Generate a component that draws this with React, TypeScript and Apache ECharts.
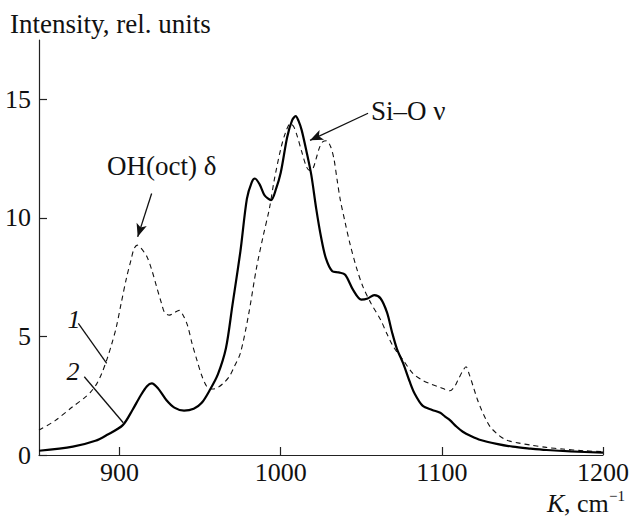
import React, { useEffect, useRef } from "react";
import * as echarts from "echarts";

// Curve 2 (solid)
const waveNumbers2 = [850, 871, 885, 892, 902, 908, 913, 917, 920, 924, 929, 934, 940, 946, 951, 956, 961, 966, 970, 975, 979, 982, 984, 987, 990, 994, 997, 1000, 1004, 1007, 1009.3, 1011, 1013, 1016, 1019, 1022, 1025, 1028, 1032, 1036, 1040, 1045, 1050, 1054, 1058, 1062, 1066, 1069, 1072, 1076, 1080, 1083, 1088, 1094, 1099, 1102, 1105, 1109, 1113, 1118, 1124, 1134, 1144, 1155, 1165, 1180, 1200];
const intensity2 = [0.18, 0.35, 0.6, 0.84, 1.26, 1.9, 2.5, 2.9, 3.02, 2.8, 2.32, 2.0, 1.87, 1.95, 2.2, 2.74, 3.4, 4.5, 6.3, 8.6, 10.8, 11.5, 11.66, 11.4, 10.95, 10.75, 11.2, 11.9, 13.4, 14.1, 14.29, 14.1, 13.7, 12.8, 11.8, 10.4, 9.2, 8.3, 7.75, 7.7, 7.6, 6.95, 6.55, 6.6, 6.74, 6.6, 6.0, 5.2, 4.5, 3.86, 3.1, 2.6, 2.08, 1.9, 1.78, 1.62, 1.47, 1.2, 0.98, 0.8, 0.63, 0.47, 0.35, 0.27, 0.21, 0.15, 0.1];

// Curve 1 (dashed)
const waveNumbers1 = [850, 860, 871, 878, 882, 886, 889, 892, 895, 898, 901, 904.4, 907, 909, 911, 913, 917, 920, 923, 926, 928, 931, 934, 937, 939, 942, 945, 948, 951, 954, 957, 960, 964, 968, 971, 975, 980, 985, 989, 993, 996, 1000, 1003, 1006, 1008, 1010, 1013, 1016, 1018, 1020, 1022, 1024, 1026, 1028.5, 1031, 1033, 1035, 1037, 1040, 1043, 1047, 1051, 1056, 1062, 1066, 1070, 1076, 1082, 1088, 1093, 1099, 1105, 1108, 1110, 1113, 1115, 1117, 1119.5, 1122, 1124, 1127, 1130, 1135, 1140, 1148, 1155, 1165, 1175, 1188, 1200];
const intensity1 = [1.05, 1.45, 2.04, 2.4, 2.65, 3.02, 3.45, 4.0, 4.65, 5.4, 6.4, 7.5, 8.2, 8.7, 8.85, 8.75, 8.36, 7.8, 7.09, 6.4, 6.0, 5.9, 6.0, 6.1, 5.95, 5.5, 4.7, 4.0, 3.35, 2.9, 2.78, 2.81, 3.0, 3.3, 3.7, 4.3, 5.9, 7.9, 9.2, 10.4, 11.6, 12.9, 13.6, 13.98, 13.85, 13.5, 12.8, 12.15, 12.0, 12.08, 12.5, 12.95, 13.2, 13.25, 13.0, 12.5, 11.6, 10.75, 9.8, 8.9, 7.9, 7.1, 6.4, 5.7, 5.1, 4.56, 4.0, 3.44, 3.15, 3.0, 2.85, 2.71, 2.9, 3.16, 3.55, 3.72, 3.4, 2.88, 2.35, 2.0, 1.55, 1.19, 0.85, 0.63, 0.5, 0.42, 0.32, 0.25, 0.18, 0.14];

const xTicks = [900, 1000, 1100, 1200];
const yTicks = [0, 5, 10, 15];

const FONT = "Liberation Serif";
const FS = 26;
const FS_TEXT = 27;

export default function App() {
  const ref = useRef<HTMLDivElement>(null);
  useEffect(() => {
    document.body.style.margin = "0";
    const chart = echarts.init(ref.current!, null, { renderer: "svg" });
    const zip = (xs: number[], ys: number[]) => xs.map((x, i) => [x, ys[i]]);
    const annLine = { color: "#111", width: 1.3, type: "solid" as const };
    const txt = (text: string, x: number, y: number, extra: any = {}) => ({
      type: "text",
      x,
      y,
      style: {
        text,
        fontFamily: FONT,
        fontSize: FS_TEXT,
        fill: "#111",
        verticalAlign: "middle",
        ...extra,
      },
    });
    chart.setOption({
      animation: false,
      backgroundColor: "#fff",
      grid: { left: 39, right: 29, top: 40, bottom: 62, containLabel: false },
      xAxis: {
        type: "value",
        min: 850,
        max: 1200,
        splitLine: { show: false },
        axisLine: { show: true, lineStyle: { color: "#222", width: 1.2 } },
        axisTick: { show: true, inside: true, length: 8, customValues: xTicks, lineStyle: { color: "#222", width: 1.2 } },
        axisLabel: {
          customValues: xTicks,
          margin: 4,
          fontFamily: FONT,
          fontSize: FS,
          color: "#111",
          formatter: (v: number) => String(v),
        },
      },
      yAxis: {
        type: "value",
        min: 0,
        max: 17.5,
        splitLine: { show: false },
        axisLine: { show: true, lineStyle: { color: "#222", width: 1.2 } },
        axisTick: { show: true, inside: true, length: 8, customValues: yTicks, lineStyle: { color: "#222", width: 1.2 } },
        axisLabel: {
          customValues: yTicks,
          margin: 8,
          fontFamily: FONT,
          fontSize: FS,
          color: "#111",
          formatter: (v: number) => String(v),
        },
      },
      series: [
        {
          type: "line",
          data: zip(waveNumbers1, intensity1),
          showSymbol: false,
          smooth: 0.3,
          lineStyle: { color: "#111", width: 1.1, type: [5, 4] },
          silent: true,
          z: 2,
        },
        {
          type: "line",
          data: zip(waveNumbers2, intensity2),
          showSymbol: false,
          smooth: 0.3,
          lineStyle: { color: "#000", width: 2.2 },
          silent: true,
          z: 3,
          markLine: {
            silent: true,
            label: { show: false },
            symbolSize: [8, 13],
            lineStyle: annLine,
            data: [
              [
                { coord: [919.9, 11.03], symbol: "none", lineStyle: annLine },
                { coord: [911.25, 9.2], symbol: "arrow" },
              ],
              [
                { coord: [1054.2, 14.41], symbol: "none", lineStyle: annLine },
                { coord: [1018.2, 13.27], symbol: "arrow" },
              ],
              [
                { coord: [874.4, 5.55], symbol: "none", lineStyle: annLine },
                { coord: [892.0, 3.86], symbol: "none" },
              ],
              [
                { coord: [878.1, 3.3], symbol: "none", lineStyle: annLine },
                { coord: [902.3, 1.36], symbol: "none" },
              ],
            ],
          },
        },
      ],
      graphic: [
        txt("Intensity, rel. units", 10, 24),
        txt("OH(oct) δ", 107, 166),
        txt("Si\u2013O ν", 371, 111),
        txt("1", 74, 319, { fontStyle: "italic", align: "center", fontSize: FS }),
        txt("2", 73, 371, { fontStyle: "italic", align: "center", fontSize: FS }),
        txt("K", 547, 503, { fontStyle: "italic", fontSize: FS }),
        txt(", cm", 564, 503, { fontSize: FS }),
        txt("\u22121", 609, 496, { fontSize: 15 }),
      ],
    });
    return () => chart.dispose();
  }, []);
  return <div ref={ref} style={{ width: 632, height: 517 }} />;
}
